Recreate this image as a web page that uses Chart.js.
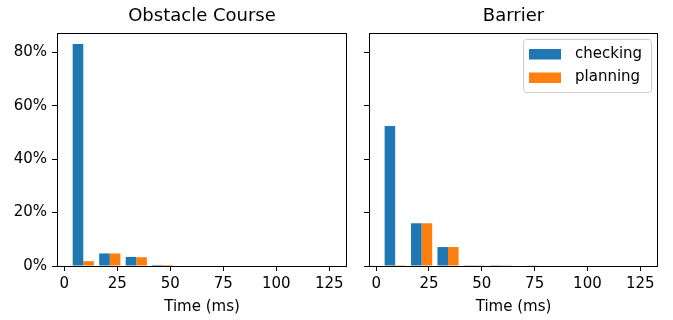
<!DOCTYPE html>
<html lang="en">
<head>
<meta charset="UTF-8" />
<title>Time histograms</title>
<script src="https://cdn.jsdelivr.net/npm/chart.js"></script>
<style>
	body { margin: 0; background: #fff; }
	.wrap { position: relative; width: 673px; height: 320px; }
	.wrap canvas { position: absolute; top: 0; }
	#left { left: 0; }
	#right { left: 357px; }
</style>
</head>
<body>
<div class="wrap">
	<canvas id="left" width="357" height="320"></canvas>
	<canvas id="right" width="316" height="320"></canvas>
</div>
<script>
	// histogram bin centres (ms) and share of samples (%)
	const binCenters = [9, 21.5, 34, 46.5, 59, 71.5, 84, 96.5, 109, 121.5];
	const obstacleChecking = [83.1, 4.7, 3.4, 0.4, 0, 0, 0, 0, 0, 0];
	const obstaclePlanning = [1.8, 4.7, 3.3, 0.4, 0, 0, 0, 0, 0, 0];
	const barrierChecking = [52.4, 16.0, 7.1, 0.3, 0.3, 0, 0, 0, 0, 0];
	const barrierPlanning = [0.3, 16.0, 7.1, 0.3, 0.3, 0.3, 0, 0, 0, 0];
	const xTicks = [0, 25, 50, 75, 100, 125];
	const yTicks = [0, 20, 40, 60, 80];

	const BLUE = "#1f77b4";
	const ORANGE = "#ff7f0e";
	const FONT = "'DejaVu Sans', sans-serif";
	const yMax = Math.max(...obstacleChecking, ...barrierChecking) * 1.05;

	const toPoints = (vals) => binCenters.map((x, i) => ({ x: x, y: vals[i] }));

	// box around the plot area
	const frame = {
		id: "frame",
		afterDatasetsDraw(chart) {
			const { ctx, chartArea: a } = chart;
			ctx.save();
			ctx.strokeStyle = "#000";
			ctx.lineWidth = 1;
			ctx.strokeRect(
				Math.round(a.left) + 0.5,
				Math.round(a.top) + 0.5,
				Math.round(a.right - a.left) - 1,
				Math.round(a.bottom - a.top)
			);
			ctx.restore();
		},
	};

	// title centred over the plot area
	const heading = {
		id: "heading",
		afterDraw(chart, args, opts) {
			const { ctx, chartArea: a } = chart;
			ctx.save();
			ctx.font = "18px " + FONT;
			ctx.fillStyle = "#000";
			ctx.textAlign = "center";
			ctx.textBaseline = "middle";
			ctx.fillText(opts.text, (a.left + a.right) / 2, 16);
			ctx.restore();
		},
	};

	// legend drawn inside the plot (upper right)
	const innerLegend = {
		id: "innerLegend",
		afterDraw(chart, args, opts) {
			if (!opts.show) return;
			const { ctx, chartArea: a } = chart;
			const x = a.right - 135, y = a.top + 6, w = 128, h = 53;
			ctx.save();
			ctx.fillStyle = "rgba(255,255,255,0.8)";
			ctx.strokeStyle = "#cccccc";
			ctx.lineWidth = 1;
			ctx.beginPath();
			ctx.roundRect(x + 0.5, y + 0.5, w, h, 3);
			ctx.fill();
			ctx.stroke();
			ctx.font = "15px " + FONT;
			ctx.textBaseline = "middle";
			chart.data.datasets.forEach((ds, i) => {
				const ry = y + 10 + i * 23.5;
				ctx.fillStyle = ds.backgroundColor;
				ctx.fillRect(x + 6, ry, 32, 10.5);
				ctx.fillStyle = "#000";
				ctx.fillText(ds.label, x + 52, ry + 5);
			});
			ctx.restore();
		},
	};

	const criarGrafico = (id, titulo, checking, planning, opts) => {
		new Chart(document.getElementById(id), {
			type: "bar",
			data: {
				datasets: [
					{ label: "checking", data: toPoints(checking), backgroundColor: BLUE, borderWidth: 0 },
					{ label: "planning", data: toPoints(planning), backgroundColor: ORANGE, borderWidth: 0 },
				],
			},
			plugins: [frame, heading, innerLegend],
			options: {
				responsive: false,
				animation: false,
				categoryPercentage: 0.8,
				barPercentage: 1.0,
				layout: { padding: { top: 33, right: opts.padRight, left: 0, bottom: 0 } },
				plugins: {
					legend: { display: false },
					title: { display: false },
					tooltip: { enabled: false },
					heading: { text: titulo },
					innerLegend: { show: opts.legend },
				},
				scales: {
					x: {
						type: "linear",
						offset: false,
						min: -3.4,
						max: 133.4,
						afterBuildTicks: (s) => { s.ticks = xTicks.map((v) => ({ value: v })); },
						afterFit: (s) => { s.height = 54; },
						grid: { offset: false, drawOnChartArea: false, drawTicks: true, tickLength: 5, color: "#000" },
						border: { display: false },
						ticks: { padding: 4, color: "#000", font: { family: FONT, size: 15 }, maxRotation: 0 },
						title: {
							display: true,
							text: "Time (ms)",
							color: "#000",
							font: { family: FONT, size: 15 },
							padding: { top: 0, bottom: 4 },
						},
					},
					y: {
						min: 0,
						max: yMax,
						afterBuildTicks: (s) => { s.ticks = yTicks.map((v) => ({ value: v })); },
						afterFit: (s) => { s.width = opts.yWidth; },
						grid: { drawOnChartArea: false, drawTicks: true, tickLength: 5, color: "#000" },
						border: { display: false },
						ticks: {
							padding: 5,
							color: "#000",
							font: { family: FONT, size: 15 },
							callback: (v) => (opts.yLabels ? v + "%" : ""),
						},
					},
				},
			},
		});
	};

	criarGrafico("left", "Obstacle Course", obstacleChecking, obstaclePlanning, {
		padRight: 10, yWidth: 57, yLabels: true, legend: false,
	});
	criarGrafico("right", "Barrier", barrierChecking, barrierPlanning, {
		padRight: 15, yWidth: 12, yLabels: false, legend: true,
	});
</script>
</body>
</html>
